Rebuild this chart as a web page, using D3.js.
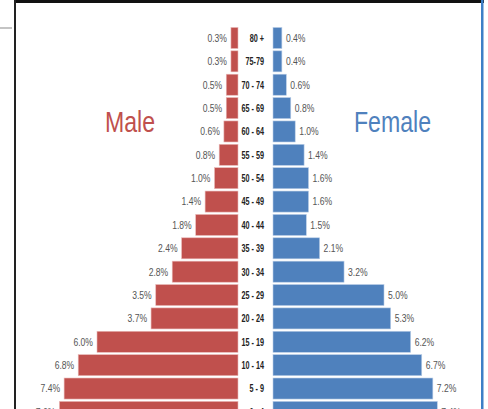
<!DOCTYPE html>
<html>
<head>
<meta charset="utf-8">
<script src="https://cdn.jsdelivr.net/npm/d3@7"></script>
<style>
  body { margin: 0; background: #fff; }
  svg { display: block; }
</style>
</head>
<body>
<div id="chart"></div>
<script>
// population pyramid, % of total population
const ages = ['80 +', '75-79', '70 - 74', '65 - 69', '60 - 64', '55 - 59', '50 - 54', '45 - 49',
              '40 - 44', '35 - 39', '30 - 34', '25 - 29', '20 - 24', '15 - 19', '10 - 14', '5 - 9', '0 - 4'];
const male   = [0.3, 0.3, 0.5, 0.5, 0.6, 0.8, 1.0, 1.4, 1.8, 2.4, 2.8, 3.5, 3.7, 6.0, 6.8, 7.4, 7.6];
const female = [0.4, 0.4, 0.6, 0.8, 1.0, 1.4, 1.6, 1.6, 1.5, 2.1, 3.2, 5.0, 5.3, 6.2, 6.7, 7.2, 7.4];

const width = 488, height = 409;
const maleColor = '#c0504d', femaleColor = '#4f81bd';
const font = '"Liberation Sans", Arial, sans-serif';
const squeeze = 0.78; // fake a narrow font

const svg = d3.select('#chart').append('svg')
  .attr('width', width)
  .attr('height', height);

// screenshot frame bits
svg.append('rect').attr('x', 14).attr('y', 0).attr('width', 470).attr('height', 3).attr('fill', '#111');
svg.append('rect').attr('x', 14).attr('y', 0).attr('width', 2).attr('height', height).attr('fill', '#222');
svg.append('rect').attr('x', 481).attr('y', 0).attr('width', 2.5).attr('height', height).attr('fill', '#3d7fc6');
svg.append('rect').attr('x', 0).attr('y', 27).attr('width', 12).attr('height', 2).attr('fill', '#c4c4c4');

const y = d3.scaleBand()
  .domain(ages)
  .range([26.3, 26.3 + ages.length * 23.37])
  .paddingInner(0.1)
  .paddingOuter(0.05);

const xM = d3.scaleLinear().domain([0, 8]).range([238, 238 - 8 * 23.5]);
const xF = d3.scaleLinear().domain([0, 8]).range([273, 273 + 8 * 22.2]);

const rows = ages.map((a, i) => ({age: a, m: male[i], f: female[i]}));
const mid = d => y(d.age) + y.bandwidth() / 2;

// male bars
svg.append('g').selectAll('rect')
  .data(rows)
  .join('rect')
  .attr('x', d => xM(d.m))
  .attr('y', d => y(d.age))
  .attr('width', d => xM(0) - xM(d.m))
  .attr('height', y.bandwidth())
  .attr('fill', maleColor)
  .attr('stroke', '#e9b9b8')
  .attr('stroke-width', 0.6);

// female bars
svg.append('g').selectAll('rect')
  .data(rows)
  .join('rect')
  .attr('x', xF(0))
  .attr('y', d => y(d.age))
  .attr('width', d => xF(d.f) - xF(0))
  .attr('height', y.bandwidth())
  .attr('fill', femaleColor)
  .attr('stroke', '#b9cde6')
  .attr('stroke-width', 0.6);

// value labels
svg.append('g').selectAll('text')
  .data(rows)
  .join('text')
  .attr('transform', d => `translate(${xM(d.m) - 4},${mid(d)}) scale(${squeeze},1)`)
  .attr('dy', '0.35em')
  .attr('text-anchor', 'end')
  .style('font-family', font)
  .style('font-size', '11px')
  .attr('fill', '#555')
  .text(d => d.m.toFixed(1) + '%');

svg.append('g').selectAll('text')
  .data(rows)
  .join('text')
  .attr('transform', d => `translate(${xF(d.f) + 4},${mid(d)}) scale(${squeeze},1)`)
  .attr('dy', '0.35em')
  .style('font-family', font)
  .style('font-size', '11px')
  .attr('fill', '#555')
  .text(d => d.f.toFixed(1) + '%');

// age labels
svg.append('g').selectAll('text')
  .data(rows)
  .join('text')
  .attr('transform', d => `translate(264,${mid(d)}) scale(0.66,1)`)
  .attr('dy', '0.35em')
  .attr('text-anchor', 'end')
  .style('font-family', font)
  .style('font-size', '11px')
  .style('font-weight', 'bold')
  .attr('fill', '#222')
  .text(d => d.age);

// series titles
svg.append('text')
  .attr('transform', 'translate(130,131.5) scale(0.77,1)')
  .attr('text-anchor', 'middle')
  .style('font-family', font)
  .style('font-size', '30px')
  .attr('fill', maleColor)
  .text('Male');

svg.append('text')
  .attr('transform', 'translate(392.5,131.5) scale(0.77,1)')
  .attr('text-anchor', 'middle')
  .style('font-family', font)
  .style('font-size', '30px')
  .attr('fill', femaleColor)
  .text('Female');
</script>
</body>
</html>
